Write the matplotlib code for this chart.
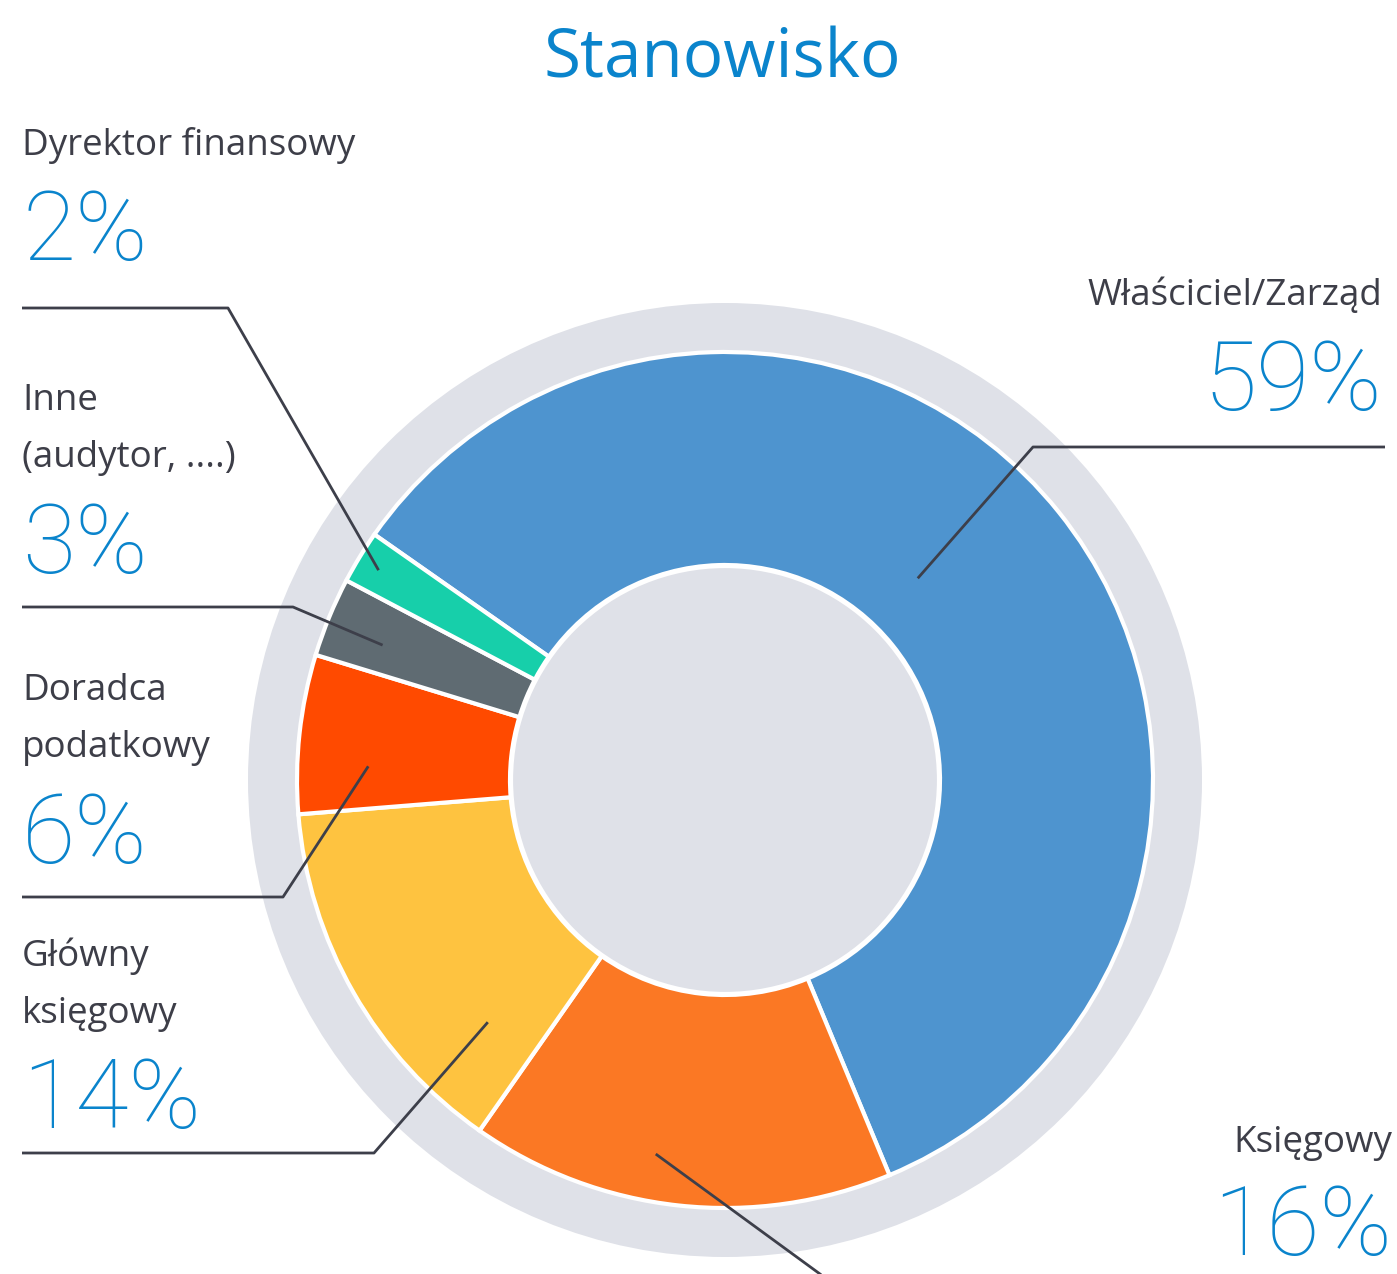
import numpy as np
import matplotlib
matplotlib.use("Agg")
import matplotlib.pyplot as plt
from matplotlib.patches import Circle

# ---- data ----
categories = ["Właściciel/Zarząd", "Księgowy", "Główny\nksięgowy", "Doradca\npodatkowy",
              "Inne\n(audytor, ....)", "Dyrektor finansowy"]
values = [59, 16, 14, 6, 3, 2]
colors = ["#4e94cf", "#fb7824", "#fec340", "#ff4a00", "#5f6b72", "#17cfaa"]
title = "Stanowisko"

W, H = 1397, 1274
fig = plt.figure(figsize=(W / 100, H / 100), dpi=100)
ax = fig.add_axes([0, 0, 1, 1])

cx, cy = 725, H - 780
R_out, R_in, R_ring = 428, 215, 477

ax.add_patch(Circle((cx, cy), R_ring, facecolor="#dfe1e8", edgecolor="none", zorder=0))
wedges, _ = ax.pie(values, colors=colors, startangle=145, counterclock=False,
                   radius=R_out, center=(cx, cy),
                   wedgeprops=dict(width=R_out - R_in, edgecolor="white", linewidth=3))
for w in wedges:
    w.set_zorder(2)
ax.add_patch(Circle((cx, cy), R_in - 1, facecolor="#dfe1e8", edgecolor="white", lw=3, zorder=3))

ax.set_xlim(0, W)
ax.set_ylim(0, H)
ax.set_aspect("equal")
ax.axis("off")

lab_col = "#3d3e48"
pct_col = "#0a84cc"
line_col = "#3d3f4a"
fam = ["Open Sans", "DejaVu Sans"]
pfam = ["Roboto", "DejaVu Sans"]

ax.text(722, H - 78, title, ha="center", va="baseline", fontsize=48.5, color=pct_col,
        family=fam, zorder=5)

# label layouts: (ha, x, label baseline (first line), pct baseline)
layout = {
    0: ("right", 1382, 305, 410),
    1: ("right", 1392, 1152, 1255),
    2: ("left", 22, 966, 1128),
    3: ("left", 22, 700, 863),
    4: ("left", 22, 410, 573),
    5: ("left", 22, 155, 260),
}
# leader lines: (horizontal start x, horizontal end x, y, anchor radius, anchor angle)
leaders = {
    0: (1385, 1033, 447, 279, 46.3),
    1: (None, None, None, 381, -100.3),
    2: (22, 374, 1153, 339, -134.4),
    3: (22, 283, 897, 357, 177.8),
    4: (22, 293, 607, 368, 158.5),
    5: (22, 228, 308, 405, 148.8),
}

for i, (cat, v) in enumerate(zip(categories, values)):
    ha, x, yb, yp = layout[i]
    lines = cat.split("\n")
    for k, ln in enumerate(lines):
        ax.text(x, H - (yb + 57 * k), ln, ha=ha, va="baseline", fontsize=26.5,
                color=lab_col, family=fam, zorder=5)
    ax.text(x, H - yp, f"{v}%", ha=ha, va="baseline", fontsize=70, color=pct_col,
            family=pfam, fontweight="light", zorder=5)
    x0, x1, yl, r, a = leaders[i]
    ex = cx + r * np.cos(np.radians(a))
    ey = cy + r * np.sin(np.radians(a))
    if x0 is not None:
        ax.plot([x0, x1, ex], [H - yl, H - yl, ey], color=line_col, lw=2,
                solid_capstyle="butt", zorder=6)
    else:
        ax.plot([ex, 820], [ey, H - 1274], color=line_col, lw=2, zorder=6, clip_on=False)

fig.savefig("out.png", dpi=100, facecolor="white")
